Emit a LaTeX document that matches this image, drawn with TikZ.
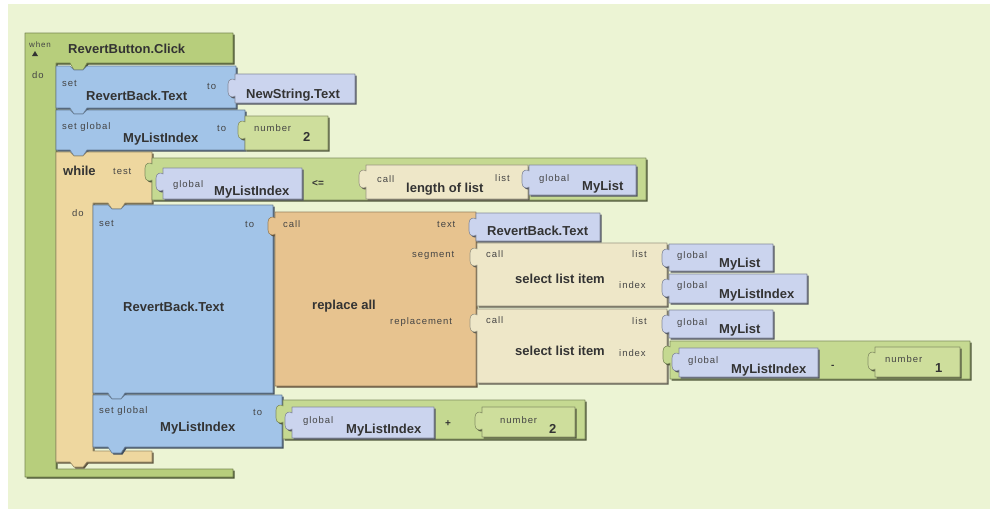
\documentclass[tikz,border=0pt]{standalone}
\usepackage{fontspec}
\setmainfont{Liberation Sans}
\newfontfamily\blksmallfam[LetterSpace=10]{Liberation Sans}
\newcommand\blkbold{\fontsize{13}{15}\selectfont\bfseries}
\newcommand\blksmall{\blksmallfam\fontsize{9.5}{11}\selectfont}
\newcommand\blktiny{\blksmallfam\fontsize{8}{9}\selectfont}

\definecolor{bgpale}{HTML}{ECF4D4}
\definecolor{evg}{HTML}{B7CE7C}
\definecolor{setblue}{HTML}{A2C4E8}
\definecolor{getlav}{HTML}{CBD4EE}
\definecolor{whiletan}{HTML}{EED79F}
\definecolor{textorange}{HTML}{E7C38F}
\definecolor{listbeige}{HTML}{EEE7C8}
\definecolor{mathgreen}{HTML}{C5D991}
\definecolor{numgreen}{HTML}{CEDE9C}
\definecolor{txtdark}{HTML}{333333}
\definecolor{txtsmall}{HTML}{444444}

\tikzset{
  blk/.style={fill=#1, draw=#1!65!black, line width=0.6pt, line join=round,
    preaction={fill=#1!40!black, transform canvas={xshift=1.5pt,yshift=-1.5pt}}},
  lb/.style={anchor=base west, inner sep=0pt, text=txtdark, font=\blkbold},
  sm/.style={anchor=base west, inner sep=0pt, text=txtsmall, font=\blksmall},
  op/.style={anchor=base west, inner sep=0pt, text=txtdark, font=\fontsize{10}{12}\selectfont\bfseries},
}

% value block: body from (x1,y1) to (x2,y2) with a hooked plug on its left edge
\newcommand\vblk[5]{%
  \path[blk=#5] (#1,#2) -- (#3,#2) -- (#3,#4) -- (#1,#4) -- (#1,{#2+22})
    .. controls ({#1-2},{#2+24}) and ({#1-7},{#2+23}) .. ({#1-7},{#2+18})
    -- ({#1-7},{#2+10})
    .. controls ({#1-7},{#2+5}) and ({#1-2},{#2+4}) .. (#1,{#2+6}) -- cycle;}

\begin{document}
\begin{tikzpicture}[x=1pt,y=-1pt]
\useasboundingbox (0,0) rectangle (990,509);
\fill[white] (0,0) rectangle (990,509);
\fill[bgpale] (8,4) rectangle (990,509);

% event handler
\path[blk=evg] (25,33) -- (233,33) -- (233,63) -- (87,63) -- (83,70) -- (74,70) -- (70,63)
  -- (56,63) -- (56,469) -- (233,469) -- (233,477) -- (25,477) -- cycle;
\fill[txtdark] (32,56) -- (38,56) -- (35,51) -- cycle;
\node[sm, font=\blktiny] (when) at (29,47) {when};
\node[lb] (evname) at (68,53) {RevertButton.Click};
\node[sm] (evdo) at (32,78) {do};

% set RevertBack.Text to NewString.Text
\path[blk=setblue] (56,66) -- (70,66) -- (74,70) -- (83,70) -- (87,66) -- (236,66) -- (236,108)
  -- (87,108) -- (83,114) -- (74,114) -- (70,108) -- (56,108) -- cycle;
\node[sm] (s1set) at (62,86) {set};
\node[lb] (s1name) at (86,100) {RevertBack.Text};
\node[sm] (s1to) at (207,89) {to};
\vblk{235}{74}{355}{103}{getlav}
\node[lb] (s1val) at (246,98) {NewString.Text};

% set global MyListIndex to 2
\path[blk=setblue] (56,110) -- (70,110) -- (74,114) -- (83,114) -- (87,110) -- (245,110) -- (245,150)
  -- (87,150) -- (83,156) -- (74,156) -- (70,150) -- (56,150) -- cycle;
\node[sm] (s2set) at (62,129) {set global};
\node[lb] (s2name) at (123,142) {MyListIndex};
\node[sm] (s2to) at (217,131) {to};
\vblk{245}{116}{328}{150}{numgreen}
\node[sm] (s2num) at (254,131) {number};
\node[lb] (s2val) at (303,141) {2};

% while loop
\path[blk=whiletan] (56,152) -- (70,152) -- (74,156) -- (83,156) -- (87,152) -- (152,152) -- (152,203)
  -- (125,203) -- (121,209) -- (112,209) -- (108,203) -- (93,203) -- (93,451) -- (152,451)
  -- (152,462) -- (87,462) -- (83,467) -- (74,467) -- (70,462) -- (56,462) -- cycle;
\node[lb] (wh) at (63,175) {while};
\node[sm] (whtest) at (113,174) {test};
\node[sm] (whdo) at (72,216) {do};

% test: MyListIndex <= length of list MyList
\vblk{152}{158}{646}{200}{mathgreen}
\vblk{163}{168}{302}{199}{getlav}
\node[sm] (c1g) at (173,187) {global};
\node[lb] (c1v) at (214,195) {MyListIndex};
\node[op] (c1op) at (312,186) {<=};
\vblk{366}{165}{528}{199}{listbeige}
\node[sm] (c1call) at (377,182) {call};
\node[lb] (c1fn) at (406,192) {length of list};
\node[sm] (c1list) at (495,181) {list};
\vblk{529}{165}{636}{195}{getlav}
\node[sm] (c1lg) at (539,181) {global};
\node[lb] (c1lv) at (582,190) {MyList};

% set RevertBack.Text to replace all
\path[blk=setblue] (93,205) -- (108,205) -- (112,209) -- (121,209) -- (125,205) -- (273,205) -- (273,393)
  -- (125,393) -- (121,399) -- (112,399) -- (108,393) -- (93,393) -- cycle;
\node[sm] (s3set) at (99,226) {set};
\node[sm] (s3to) at (245,227) {to};
\node[lb] (s3name) at (123,311) {RevertBack.Text};

\vblk{275}{212}{476}{386}{textorange}
\node[sm] (racall) at (283,227) {call};
\node[lb] (rafn) at (312,309) {replace all};
\node[sm] (ratext) at (437,227) {text};
\node[sm] (raseg) at (412,257) {segment};
\node[sm] (rarep) at (390,324) {replacement};

\vblk{476}{213}{600}{241}{getlav}
\node[lb] (ratv) at (487,235) {RevertBack.Text};

% segment: select list item
\vblk{477}{243}{667}{306}{listbeige}
\node[sm] (sl1call) at (486,257) {call};
\node[lb] (sl1fn) at (515,283) {select list item};
\node[sm] (sl1list) at (632,257) {list};
\node[sm] (sl1idx) at (619,288) {index};
\vblk{669}{244}{773}{271}{getlav}
\node[sm] (sl1lg) at (677,258) {global};
\node[lb] (sl1lv) at (719,267) {MyList};
\vblk{669}{274}{807}{303}{getlav}
\node[sm] (sl1ig) at (677,288) {global};
\node[lb] (sl1iv) at (719,298) {MyListIndex};

% replacement: select list item with index MyListIndex - 1
\vblk{477}{309}{667}{383}{listbeige}
\node[sm] (sl2call) at (486,323) {call};
\node[lb] (sl2fn) at (515,355) {select list item};
\node[sm] (sl2list) at (632,324) {list};
\node[sm] (sl2idx) at (619,356) {index};
\vblk{669}{310}{773}{338}{getlav}
\node[sm] (sl2lg) at (677,325) {global};
\node[lb] (sl2lv) at (719,333) {MyList};
\vblk{670}{341}{970}{379}{mathgreen}
\vblk{679}{348}{818}{377}{getlav}
\node[sm] (m1g) at (688,363) {global};
\node[lb] (m1v) at (731,373) {MyListIndex};
\node[op] (m1op) at (831,368) {-};
\vblk{875}{347}{960}{377}{numgreen}
\node[sm] (m1num) at (885,362) {number};
\node[lb] (m1val) at (935,372) {1};

% set global MyListIndex to MyListIndex + 2
\path[blk=setblue] (93,395) -- (108,395) -- (112,399) -- (121,399) -- (125,395) -- (282,395) -- (282,447)
  -- (125,447) -- (121,453) -- (112,453) -- (108,447) -- (93,447) -- cycle;
\node[sm] (s4set) at (99,413) {set global};
\node[sm] (s4to) at (253,415) {to};
\node[lb] (s4name) at (160,431) {MyListIndex};
\vblk{283}{400}{585}{439}{mathgreen}
\vblk{292}{407}{434}{438}{getlav}
\node[sm] (p1g) at (303,423) {global};
\node[lb] (p1v) at (346,433) {MyListIndex};
\node[op] (p1op) at (445,426) {+};
\vblk{482}{407}{575}{437}{numgreen}
\node[sm] (p1num) at (500,423) {number};
\node[lb] (p1val) at (549,433) {2};
\end{tikzpicture}
\end{document}
